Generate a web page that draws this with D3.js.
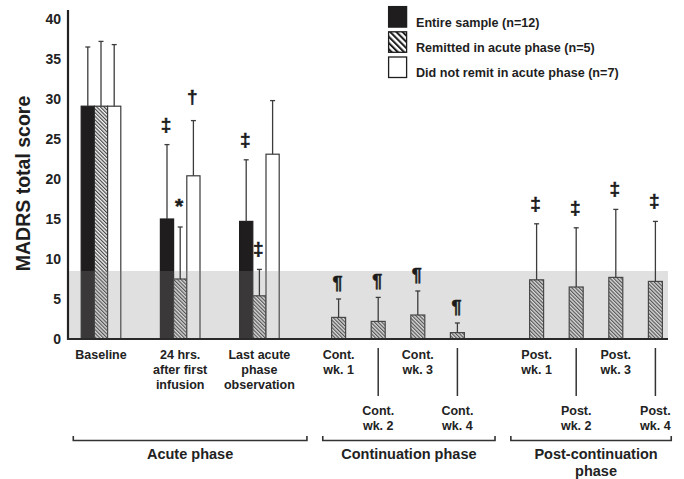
<!DOCTYPE html>
<html><head><meta charset="utf-8">
<script src="https://cdn.jsdelivr.net/npm/d3@7"></script>
<style>
html,body{margin:0;padding:0;background:#fff;}
svg{display:block;font-family:"Liberation Sans",Arial,sans-serif;font-weight:bold;}
</style></head>
<body><svg id="c" width="684" height="479"></svg>
<script>
// ---------- data ----------
const categories = ["Baseline","24 hrs. after first infusion","Last acute phase observation",
  "Cont. wk. 1","Cont. wk. 2","Cont. wk. 3","Cont. wk. 4",
  "Post. wk. 1","Post. wk. 2","Post. wk. 3","Post. wk. 4"];
const categoryLines = [["Baseline"],["24 hrs.","after first","infusion"],["Last acute","phase","observation"],
  ["Cont.","wk. 1"],["Cont.","wk. 2"],["Cont.","wk. 3"],["Cont.","wk. 4"],
  ["Post.","wk. 1"],["Post.","wk. 2"],["Post.","wk. 3"],["Post.","wk. 4"]];
const categoryPhase = [0,0,0,1,1,1,1,2,2,2,2];
const phaseLines = [["Acute phase"],["Continuation phase"],["Post-continuation","phase"]];
const seriesNames = ["Entire sample (n=12)","Remitted in acute phase (n=5)","Did not remit in acute phase (n=7)"];
const entireMean    = [29.1, 15.0, 14.7, null,null,null,null, null,null,null,null];
const entireSD      = [7.4,  9.3,  7.7,  null,null,null,null, null,null,null,null];
const remittedMean  = [29.1, 7.5, 5.4, 2.7, 2.2, 3.0, 0.8, 7.4, 6.5, 7.7, 7.2];
const remittedSD    = [8.1,  6.5, 3.3, 2.3, 3.0, 3.0, 1.2, 7.0, 7.4, 8.5, 7.5];
const notRemitMean  = [29.1, 20.4, 23.1, null,null,null,null, null,null,null,null];
const notRemitSD    = [7.7,  6.9,  6.7,  null,null,null,null, null,null,null,null];
const entireSig     = ["","‡","‡","","","","","","","",""];
const remittedSig   = ["","*","‡","¶","¶","¶","¶","‡","‡","‡","‡"];
const notRemitSig   = ["","†","","","","","","","","",""];
const yTicks = [0,5,10,15,20,25,30,35,40];
const remissionCutoff = 8.5;

// ---------- layout ----------
const svg = d3.select("#c");
const plotL = 68, plotR = 668;
const y = d3.scaleLinear().domain([0,40]).range([339,19]);

// slot index per category: acute groups two slots apart, phases separated by a blank slot
const slots = [];
categories.forEach((c,i)=>{
  if(i===0) slots.push(0);
  else if(categoryPhase[i]!==categoryPhase[i-1] || categoryPhase[i]===0) slots.push(slots[i-1]+2);
  else slots.push(slots[i-1]+1);
});
const x = d3.scaleLinear().domain([0,14]).range([101,655.4]);
const series = seriesNames.map((n,k)=>({name:n,
  mean:[entireMean,remittedMean,notRemitMean][k],
  sd:[entireSD,remittedSD,notRemitSD][k],
  sig:[entireSig,remittedSig,notRemitSig][k]}));
const inner = d3.scaleBand().domain(seriesNames).range([-19.8,19.8]);

// patterns
const defs = svg.append("defs");
const p1 = defs.append("pattern").attr("id","hatch").attr("patternUnits","userSpaceOnUse")
  .attr("width",2.6).attr("height",2.6).attr("patternTransform","rotate(-45)");
p1.append("rect").attr("width",2.6).attr("height",2.6).attr("fill","#f4f4f4");
p1.append("line").attr("x1",0.6).attr("x2",0.6).attr("y1",0).attr("y2",2.6).attr("stroke","#3a3a3a").attr("stroke-width",1.1);
const p2 = defs.append("pattern").attr("id","hatchL").attr("patternUnits","userSpaceOnUse")
  .attr("width",4.4).attr("height",4.4).attr("patternTransform","rotate(-45)");
p2.append("rect").attr("width",4.4).attr("height",4.4).attr("fill","#fff");
p2.append("line").attr("x1",1).attr("x2",1).attr("y1",0).attr("y2",4.4).attr("stroke","#1e1e1e").attr("stroke-width",2.1);

const fills = ["#1f1d1e","url(#hatch)","#ffffff"];
const strokes = ["#1f1d1e","#333","#3a3a3a"];

// bars
const bars = [];
series.forEach((s,k)=>{
  s.mean.forEach((v,i)=>{
    if(v==null) return;
    const acute = categoryPhase[i]===0;
    const cx = acute ? x(slots[i]) + inner(s.name) + inner.bandwidth()/2 : x(slots[i]);
    const w = acute ? inner.bandwidth() : 14;
    bars.push({k,i,v,sd:s.sd[i],sig:s.sig[i],cx,w});
  });
});
const gBars = svg.append("g");
gBars.selectAll("rect").data(bars).join("rect")
  .attr("x",d=>d.cx-d.w/2).attr("width",d=>d.w)
  .attr("y",d=>y(d.v)).attr("height",d=>y(0)-y(d.v))
  .attr("fill",d=>fills[d.k]).attr("stroke",d=>strokes[d.k]).attr("stroke-width",1.2);

// remission band (semi-transparent overlay)
svg.append("rect").attr("x",plotL).attr("width",plotR-plotL)
  .attr("y",y(remissionCutoff)).attr("height",y(0)-y(remissionCutoff))
  .attr("fill","#868688").attr("fill-opacity",0.26);

// error bars
const gErr = svg.append("g").attr("stroke","#3c3c3c").attr("stroke-width",1.3);
bars.forEach(d=>{
  gErr.append("line").attr("x1",d.cx).attr("x2",d.cx).attr("y1",y(d.v)).attr("y2",y(d.v+d.sd));
  gErr.append("line").attr("x1",d.cx-2.5).attr("x2",d.cx+2.5).attr("y1",y(d.v+d.sd)).attr("y2",y(d.v+d.sd));
});
// significance marks
const sigOffset = {"‡":14,"†":17.5,"*":14,"¶":10.5};
const sigSize = {"‡":19,"†":19,"*":21,"¶":18};
svg.append("g").selectAll("text").data(bars.filter(d=>d.sig)).join("text")
  .attr("x",d=>d.cx-1).attr("y",d=>y(d.v+d.sd)-sigOffset[d.sig])
  .attr("text-anchor","middle").attr("font-size",d=>sigSize[d.sig]).attr("fill","#1a1a1a")
  .attr("stroke","#1a1a1a").attr("stroke-width",0.5)
  .text(d=>d.sig);

// axes
const yAxis = svg.append("g").attr("transform",`translate(${plotL},0)`)
  .call(d3.axisLeft(y).tickValues(yTicks).tickSize(0).tickPadding(7));
yAxis.select(".domain").remove();
yAxis.selectAll("text").attr("font-size",14).attr("font-family","Liberation Sans, Arial, sans-serif")
  .attr("font-weight","bold").attr("fill","#222");
svg.append("line").attr("x1",plotL).attr("x2",plotL).attr("y1",10).attr("y2",y(0)+1)
  .attr("stroke","#222").attr("stroke-width",2.2);
svg.append("line").attr("x1",plotL-1).attr("x2",plotR).attr("y1",y(0)).attr("y2",y(0))
  .attr("stroke","#2a2a2a").attr("stroke-width",2.2);

svg.append("text").attr("transform","translate(29.5,183.5) rotate(-90)").attr("text-anchor","middle")
  .attr("font-size",19.5).attr("fill","#1e1e1e").text("MADRS total score");

// category labels
const gLab = svg.append("g").attr("font-size",12.5).attr("fill","#222").attr("text-anchor","middle");
categories.forEach((c,i)=>{
  const first = categoryPhase.indexOf(categoryPhase[i]);
  const lower = categoryPhase[i]!==0 && (i-first)%2===1;
  const cx = x(slots[i]);
  const y0 = lower ? 414.5 : 358.5;
  if(lower){
    svg.append("line").attr("x1",cx).attr("x2",cx).attr("y1",348).attr("y2",396)
      .attr("stroke","#333").attr("stroke-width",1.5);
  }
  const t = gLab.append("text").attr("x",cx).attr("y",y0);
  categoryLines[i].forEach((l,j)=>t.append("tspan").attr("x",cx).attr("dy",j?15:0).text(l));
});

// phase brackets
const bracketSpan = [[-0.7,5.2],[5.6,9.95],[10.35,14.4]];
const gPh = svg.append("g");
phaseLines.forEach((lines,p)=>{
  const x0 = x(bracketSpan[p][0]), x1 = x(bracketSpan[p][1]);
  gPh.append("path").attr("d",`M${x0},436 V440.5 H${x1} V436`).attr("fill","none")
    .attr("stroke","#333").attr("stroke-width",1.6);
  const cx = (x0+x1)/2 + (p===2?5:0);
  const t = gPh.append("text").attr("x",cx).attr("y",459).attr("text-anchor","middle")
    .attr("font-size",14.5).attr("fill","#222");
  lines.forEach((l,j)=>t.append("tspan").attr("x",cx).attr("dy",j?16.5:0).text(l));
});

// legend
const gLeg = svg.append("g").attr("transform","translate(388,6)");
seriesNames.forEach((n,k)=>{
  const g = gLeg.append("g").attr("transform",`translate(0,${k*25.2})`);
  g.append("rect").attr("x",0.6).attr("y",0.6).attr("width",18).attr("height",20.5)
    .attr("fill",k===1?"url(#hatchL)":fills[k]).attr("stroke","#1e1e1e").attr("stroke-width",1.3);
  g.append("text").attr("x",28).attr("y",20.5).attr("font-size",12.6).attr("fill","#1e1e1e").text(n);
});
</script></body></html>
